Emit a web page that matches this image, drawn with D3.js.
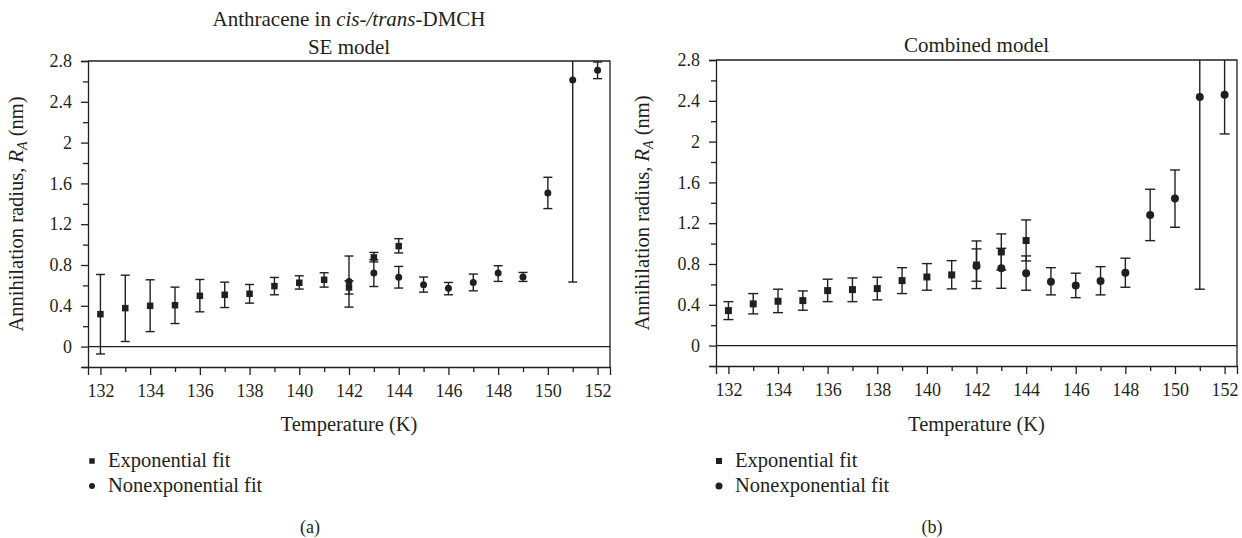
<!DOCTYPE html>
<html>
<head>
<meta charset="utf-8">
<script src="https://cdn.jsdelivr.net/npm/d3@7"></script>
<style>
  body { margin: 0; background: white; }
  text { font-family: "Liberation Serif", "DejaVu Serif", serif; fill: #231f20; }
</style>
</head>
<body>
<div id="chart"></div>
<script>
var width = 1242,
    height = 538

// temperatures (K)
var expTemps = [132, 133, 134, 135, 136, 137, 138, 139, 140, 141, 142, 143, 144]
var nonTemps = [142, 143, 144, 145, 146, 147, 148, 149, 150, 151, 152]

// (a) SE model
var expValA  = [0.318, 0.377, 0.400, 0.406, 0.498, 0.508, 0.518, 0.593, 0.626, 0.655, 0.580, 0.874, 0.985]
var expLowA  = [-0.072, 0.050, 0.147, 0.226, 0.341, 0.383, 0.426, 0.508, 0.564, 0.583, 0.515, 0.830, 0.918]
var expHighA = [0.707, 0.700, 0.655, 0.583, 0.658, 0.632, 0.609, 0.678, 0.694, 0.724, 0.645, 0.923, 1.058]
var nonValA  = [0.639, 0.721, 0.680, 0.606, 0.573, 0.629, 0.721, 0.682, 1.507, 2.613, 2.710]
var nonLowA  = [0.387, 0.589, 0.574, 0.534, 0.508, 0.547, 0.639, 0.639, 1.353, 0.633, 2.627]
var nonHighA = [0.888, 0.852, 0.786, 0.682, 0.629, 0.711, 0.793, 0.727, 1.660, 4.590, 2.790]

// (b) combined model
var expValB  = [0.343, 0.409, 0.435, 0.441, 0.539, 0.549, 0.559, 0.637, 0.673, 0.693, 0.790, 0.918, 1.030]
var expLowB  = [0.255, 0.311, 0.323, 0.347, 0.431, 0.431, 0.448, 0.510, 0.543, 0.556, 0.631, 0.741, 0.830]
var expHighB = [0.431, 0.510, 0.553, 0.536, 0.651, 0.663, 0.670, 0.764, 0.804, 0.833, 0.948, 1.095, 1.232]
var nonValB  = [0.780, 0.758, 0.710, 0.627, 0.588, 0.634, 0.715, 1.281, 1.441, 2.437, 2.460]
var nonLowB  = [0.559, 0.562, 0.543, 0.497, 0.470, 0.497, 0.572, 1.029, 1.160, 0.553, 2.075]
var nonHighB = [1.026, 0.954, 0.879, 0.764, 0.710, 0.774, 0.857, 1.533, 1.722, 4.320, 2.845]

// ticks
var xMajor = [132, 134, 136, 138, 140, 142, 144, 146, 148, 150, 152]
var xMinor = [133, 135, 137, 139, 141, 143, 145, 147, 149, 151]
var yMajor = [0, 0.4, 0.8, 1.2, 1.6, 2, 2.4, 2.8]
var yMinor = [-0.2, 0.2, 0.6, 1.0, 1.4, 1.8, 2.2, 2.6]

var legendLabels = ["Exponential fit", "Nonexponential fit"]

var ink = "#231f20"
var serif = "'Liberation Serif', 'DejaVu Serif', serif"

var svg = d3.select("#chart")
    .append("svg")
        .attr("width", width)
        .attr("height", height)

function zip(t, v, lo, hi) {
    return t.map(function(d, i) { return {t: d, v: v[i], lo: lo[i], hi: hi[i]} })
}

function drawPanel(p) {
    var x = d3.scaleLinear().domain([131.5, 152.5]).range([p.left, p.right])
    var y = d3.scaleLinear().domain([-0.2, 2.8]).range([p.bottom, p.top])

    var g = svg.append("g")

    g.append("clipPath").attr("id", p.id)
        .append("rect")
        .attr("x", p.left).attr("y", p.top)
        .attr("width", p.right - p.left).attr("height", p.bottom - p.top)

    // axes
    g.append("g")
        .attr("transform", "translate(0," + p.bottom + ")")
        .call(d3.axisBottom(x).tickValues(xMajor).tickSize(8).tickPadding(9).tickFormat(d3.format("d")))
    g.append("g")
        .attr("transform", "translate(0," + p.bottom + ")")
        .call(d3.axisBottom(x).tickValues(xMinor).tickSize(5).tickFormat(""))
        .select(".domain").remove()

    g.append("g")
        .attr("transform", "translate(" + p.left + ",0)")
        .call(d3.axisLeft(y).tickValues(yMajor).tickSize(7).tickPadding(9).tickFormat(function(d) { return String(+d.toFixed(1)) }))
    g.append("g")
        .attr("transform", "translate(" + p.left + ",0)")
        .call(d3.axisLeft(y).tickValues(yMinor).tickSize(5).tickFormat(""))
        .select(".domain").remove()

    g.selectAll("g").attr("font-family", serif)
    g.selectAll(".domain, .tick line").attr("stroke", ink).attr("stroke-width", 1.3)
    g.selectAll(".tick text").attr("font-size", 18).attr("fill", ink)

    // frame
    g.append("path")
        .attr("d", "M" + p.left + "," + p.top + "H" + p.right + "V" + p.bottom)
        .attr("fill", "none").attr("stroke", ink).attr("stroke-width", 1.3)
    // zero line
    g.append("line")
        .attr("x1", p.left).attr("x2", p.right)
        .attr("y1", y(0)).attr("y2", y(0))
        .attr("stroke", ink).attr("stroke-width", 1.2)

    // error bars
    var all = p.exp.concat(p.non)
    var bars = g.append("g").attr("clip-path", "url(#" + p.id + ")")
        .attr("stroke", ink).attr("stroke-width", 1.4)
    bars.selectAll(".stem").data(all).enter().append("line")
        .attr("x1", function(d) { return x(d.t) }).attr("x2", function(d) { return x(d.t) })
        .attr("y1", function(d) { return y(d.lo) }).attr("y2", function(d) { return y(d.hi) })
    var caps = []
    all.forEach(function(d) { caps.push({t: d.t, v: d.lo}); caps.push({t: d.t, v: d.hi}) })
    bars.selectAll(".cap").data(caps).enter().append("line")
        .attr("x1", function(d) { return x(d.t) - p.cap }).attr("x2", function(d) { return x(d.t) + p.cap })
        .attr("y1", function(d) { return y(d.v) }).attr("y2", function(d) { return y(d.v) })

    // markers
    g.selectAll(".dot").data(p.non).enter().append("circle")
        .attr("cx", function(d) { return x(d.t) })
        .attr("cy", function(d) { return y(d.v) })
        .attr("r", p.r).attr("fill", ink)
    g.selectAll(".sq").data(p.exp).enter().append("rect")
        .attr("x", function(d) { return x(d.t) - p.sq / 2 })
        .attr("y", function(d) { return y(d.v) - p.sq / 2 })
        .attr("width", p.sq).attr("height", p.sq).attr("fill", ink)

    // titles
    var cx = (p.left + p.right) / 2
    p.title.forEach(function(line) {
        var t = g.append("text").attr("x", cx).attr("y", line.y)
            .attr("text-anchor", "middle").attr("font-size", 21)
        line.parts.forEach(function(s) {
            t.append("tspan").text(s.s).attr("font-style", s.it ? "italic" : null)
        })
    })

    // axis labels
    g.append("text").attr("x", cx).attr("y", 431)
        .attr("text-anchor", "middle").attr("font-size", 20.5)
        .text("Temperature (K)")

    var yl = g.append("text")
        .attr("transform", "translate(" + p.ylab + "," + (p.top + p.bottom) / 2 + ") rotate(-90)")
        .attr("text-anchor", "middle").attr("font-size", 20.5)
    yl.append("tspan").text("Annihilation radius, ")
    yl.append("tspan").text("R").attr("font-style", "italic")
    yl.append("tspan").text("A").attr("font-style", "italic").attr("font-size", 14).attr("dy", 4)
    yl.append("tspan").text(" (nm)").attr("dy", -4)

    // legend
    var lg = g.append("g")
    lg.append("rect").attr("x", p.legX - p.lsq / 2).attr("y", 461 - p.lsq / 2)
        .attr("width", p.lsq).attr("height", p.lsq).attr("fill", ink)
    lg.append("circle").attr("cx", p.legX).attr("cy", 486).attr("r", p.lr).attr("fill", ink)
    lg.selectAll("text").data(legendLabels).enter().append("text")
        .attr("x", p.legX + 16).attr("y", function(d, i) { return 467 + i * 25 })
        .attr("font-size", 20.5)
        .text(function(d) { return d })

    g.append("text").attr("x", p.sub).attr("y", 533)
        .attr("text-anchor", "middle").attr("font-size", 18)
        .text(p.label)
}

drawPanel({
    id: "clipA", left: 88, right: 610, top: 61, bottom: 367,
    exp: zip(expTemps, expValA, expLowA, expHighA),
    non: zip(nonTemps, nonValA, nonLowA, nonHighA),
    cap: 4.5, r: 3.5, sq: 6.5, lsq: 5.5, lr: 3,
    title: [
        {y: 26, parts: [{s: "Anthracene in "}, {s: "cis-/trans-", it: true}, {s: "DMCH"}]},
        {y: 54, parts: [{s: "SE model"}]}
    ],
    ylab: 23, legX: 92, sub: 310, label: "(a)"
})

drawPanel({
    id: "clipB", left: 716, right: 1237, top: 60, bottom: 366,
    exp: zip(expTemps, expValB, expLowB, expHighB),
    non: zip(nonTemps, nonValB, nonLowB, nonHighB),
    cap: 5, r: 4, sq: 7, lsq: 6, lr: 3.5,
    title: [
        {y: 52, parts: [{s: "Combined model"}]}
    ],
    ylab: 649, legX: 719, sub: 932, label: "(b)"
})
</script>
</body>
</html>
